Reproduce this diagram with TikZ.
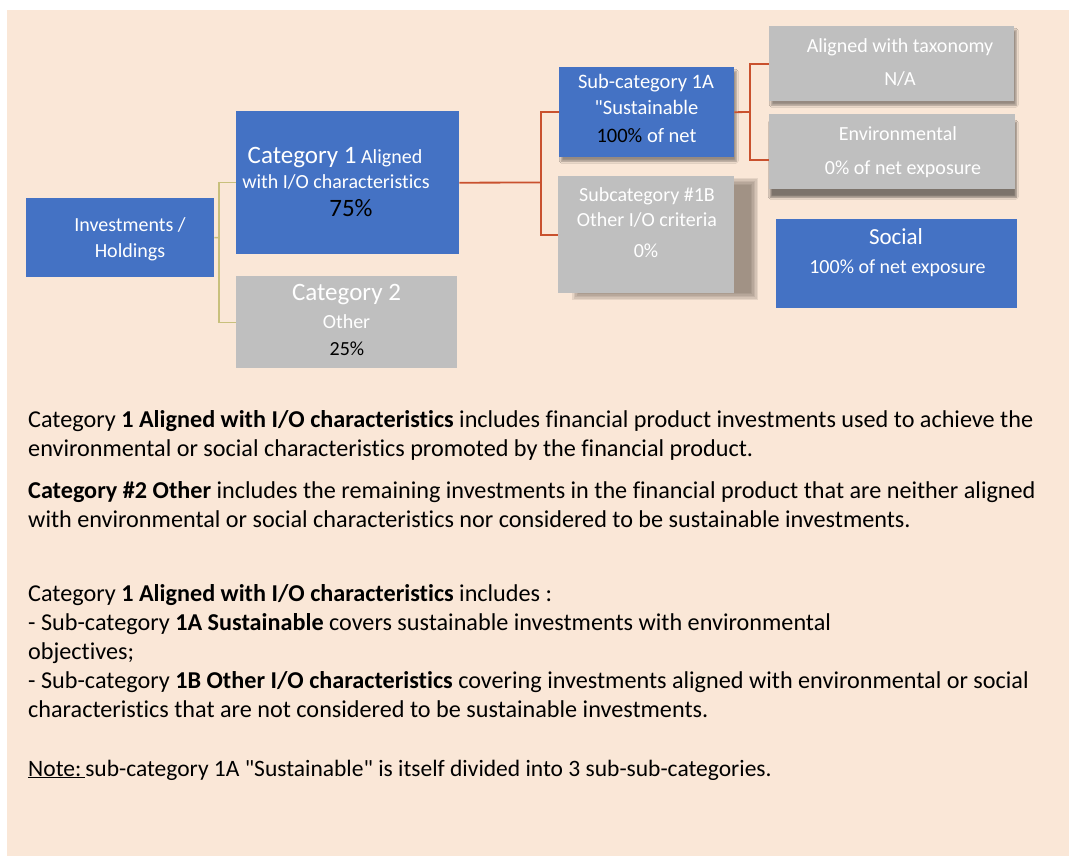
\documentclass[tikz,border=0pt]{standalone}
\usepackage{fontspec}
\setmainfont{Carlito}[Ligatures={TeXOff,NoCommon}]
\usetikzlibrary{shadows,shadows.blur}
\definecolor{bg}{HTML}{FAE7D7}
\definecolor{bluebox}{HTML}{4472C4}
\definecolor{graybox}{HTML}{BFBFBF}
\definecolor{redline}{HTML}{C9512E}
\definecolor{khaki}{HTML}{C8C07C}
\definecolor{shadowc}{HTML}{5A4E44}
\begin{document}
\begin{tikzpicture}[x=1pt,y=-1pt,
  box/.style={draw=none, inner sep=0pt, anchor=north west},
  bbox/.style={box, fill=bluebox},
  gbox/.style={box, fill=graybox},
  sshadow/.style={blur shadow={shadow xshift=2pt, shadow yshift=-4pt, shadow blur steps=6, shadow opacity=40}},
  txt/.style={anchor=base, inner sep=0pt},
  wtxt/.style={txt, text=white, font=\fontsize{20}{24}\selectfont},
  ktxt/.style={txt, text=black, font=\fontsize{20}{24}\selectfont},
  body/.style={anchor=base west, inner sep=0pt, font=\fontsize{24.2}{29}\selectfont},
  kline/.style={draw=khaki, line width=1.4pt},
  rline/.style={draw=redline, line width=1.8pt}]
\useasboundingbox (0,0) rectangle (1069,856);
\fill[bg] (7,10) rectangle (1069,856);

% soft shadow of sub-category 1B
\foreach \i in {0,...,5}{
  \fill[shadowc, opacity=0.12] (572+1.5*\i,178+1.5*\i) rectangle (758-1.5*\i,300-1.5*\i);
}

% boxes
\node[bbox, minimum width=188pt, minimum height=79pt] (inv) at (26,198) {};
\node[bbox, minimum width=223pt, minimum height=143pt] (cat1) at (236,111) {};
\node[gbox, minimum width=221pt, minimum height=92pt] (cat2) at (236,276) {};
\node[bbox, sshadow, minimum width=175pt, minimum height=90pt] (sub1a) at (559,67) {};
\node[gbox, minimum width=176pt, minimum height=117pt] (sub1b) at (558,176) {};
\node[gbox, sshadow, minimum width=245pt, minimum height=75pt] (align) at (769,26) {};
\node[gbox, blur shadow={shadow xshift=1pt, shadow yshift=-8pt, shadow blur steps=8, shadow opacity=50}, minimum width=246pt, minimum height=75pt] (env) at (769,114) {};
\node[bbox, minimum width=241pt, minimum height=89pt] (soc) at (776,219) {};

% connectors
\coordinate (j1) at (219,237.5);
\draw[kline] (inv.east) -- (j1);
\draw[kline] (j1) |- (cat1.west);
\draw[kline] (j1) |- (cat2.west);
\coordinate (j2) at (541,182.5);
\draw[rline] (cat1.east) -- (j2);
\draw[rline] (j2) |- (sub1a.west);
\draw[rline] (j2) |- (sub1b.west);
\coordinate (j3) at (750,112);
\draw[rline] (sub1a.east) -- (j3);
\draw[rline] (j3) |- (align.west);
\draw[rline] (j3) |- ([yshift=-8.5pt]env.west);

% box texts
\node[wtxt] (inv1) at (130,232) {Investments /};
\node[wtxt] (inv2) at (130,258) {Holdings};

\node[wtxt] (c1a) at (335,164) {{\fontsize{25}{30}\selectfont Category 1} Aligned};
\node[wtxt] (c1b) at (336,189) {with I/O characteristics};
\node[ktxt, font=\fontsize{25}{30}\selectfont] (c1c) at (351,217) {75\%};

\node[wtxt, font=\fontsize{25}{30}\selectfont] (c2a) at (346.5,300) {Category 2};
\node[wtxt] (c2b) at (346.5,328) {Other};
\node[ktxt] (c2c) at (347,355) {25\%};

\node[wtxt, font=\fontsize{20.5}{24}\selectfont] (s1a) at (646,89) {Sub-category 1A};
\node[wtxt, font=\fontsize{20.5}{24}\selectfont] (s1b) at (646.5,115) {"Sustainable};
\node[wtxt, font=\fontsize{20.5}{24}\selectfont] (s1c) at (646.5,143) {\textcolor{black}{100\%} of net};

\node[wtxt] (b1a) at (647,202) {Subcategory \#1B};
\node[wtxt] (b1b) at (647,226) {Other I/O criteria};
\node[wtxt] (b1c) at (646,258) {0\%};

\node[wtxt] (al1) at (900,53) {Aligned with taxonomy};
\node[wtxt] (al2) at (900,86) {N/A};

\node[wtxt] (en1) at (898,141) {Environmental};
\node[wtxt] (en2) at (903,175) {0\% of net exposure};

\node[wtxt, font=\fontsize{23}{28}\selectfont] (so1) at (896,244) {Social};
\node[wtxt] (so2) at (897.5,273) {100\% of net exposure};

% lower text
\node[body] (p1) at (28,427) {Category \textbf{1 Aligned with I/O characteristics} includes financial product investments used to achieve the};
\node[body] (p2) at (28,456) {environmental or social characteristics promoted by the financial product.};
\node[body] (p3) at (28,498) {\textbf{Category \#2 Other} includes the remaining investments in the financial product that are neither aligned};
\node[body] (p4) at (28,527) {with environmental or social characteristics nor considered to be sustainable investments.};
\node[body] (p5) at (28,601) {Category \textbf{1 Aligned with I/O characteristics} includes :};
\node[body] (p6) at (28,630) {- Sub-category \textbf{1A Sustainable} covers sustainable investments with environmental};
\node[body] (p7) at (28,659) {objectives;};
\node[body] (p8) at (28,688) {- Sub-category \textbf{1B Other I/O characteristics} covering investments aligned with environmental or social};
\node[body] (p9) at (28,717) {characteristics that are not considered to be sustainable investments.};
\node[body, font=\fontsize{23.5}{29}\selectfont] (p10) at (28,776) {\underline{Note:\,}sub-category 1A "Sustainable" is itself divided into 3 sub-sub-categories.};
\end{tikzpicture}
\end{document}
